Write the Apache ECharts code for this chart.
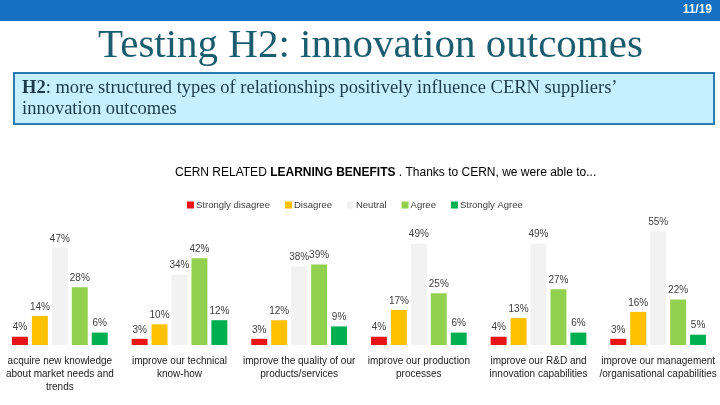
<!DOCTYPE html>
<html>
<head>
<meta charset="utf-8">
<script src="https://cdn.jsdelivr.net/npm/echarts@6/dist/echarts.min.js"></script>
<style>
html,body{margin:0;padding:0;background:#fff;}
#main{width:720px;height:405px;}
</style>
</head>
<body>
<div id="main"></div>
<script>
// categories and survey shares (%)
var categories = [
    'acquire new knowledge\nabout market needs and\ntrends',
    'improve our technical\nknow-how',
    'improve the quality of our\nproducts/services',
    'improve our production\nprocesses',
    'improve our R&D and\ninnovation capabilities',
    'improve our management\n/organisational capabilities'
];
var seriesNames = ['Strongly disagree', 'Disagree', 'Neutral', 'Agree', 'Strongly Agree'];
var stronglyDisagree = [4, 3, 3, 4, 4, 3];
var disagree = [14, 10, 12, 17, 13, 16];
var neutral = [47, 34, 38, 49, 49, 55];
var agree = [28, 42, 39, 25, 27, 22];
var stronglyAgree = [6, 12, 9, 6, 6, 5];

var colors = ['#e81416', '#ffc000', '#f2f2f2', '#92d050', '#00b050'];
var values = [stronglyDisagree, disagree, neutral, agree, stronglyAgree];

var chart = echarts.init(document.getElementById('main'));

var series = [];
for (var i = 0; i < seriesNames.length; i++) {
    series.push({
        name: seriesNames[i],
        type: 'bar',
        barGap: '25%',
        barCategoryGap: '20%',
        itemStyle: {color: colors[i]},
        label: {
            show: true,
            position: 'top',
            distance: 4,
            formatter: '{c}%',
            fontFamily: 'Liberation Sans',
            fontSize: 10,
            color: '#404040'
        },
        data: values[i]
    });
}

var option = {
    animation: false,
    backgroundColor: '#fff',
    color: colors,
    title: {
        text: 'CERN RELATED {b|LEARNING BENEFITS} . Thanks to CERN, we were able to...',
        left: 170,
        top: 162,
        textStyle: {
            fontFamily: 'Liberation Sans',
            fontSize: 12,
            fontWeight: 'normal',
            color: '#000',
            rich: {
                b: {fontFamily: 'Liberation Sans', fontSize: 12, fontWeight: 'bold', color: '#000'}
            }
        }
    },
    legend: {
        left: 182,
        top: 195,
        icon: 'rect',
        itemWidth: 7,
        itemHeight: 7,
        itemGap: 15,
        textStyle: {fontFamily: 'Liberation Sans', fontSize: 9.5, color: '#404040', padding: [0, 0, 0, -3]},
        data: seriesNames
    },
    grid: {left: 0, right: 2, top: 221, bottom: 60},
    xAxis: {
        type: 'category',
        data: categories,
        axisLine: {show: false},
        axisTick: {show: false},
        axisLabel: {
            interval: 0,
            margin: 10,
            fontFamily: 'Liberation Sans',
            fontSize: 10,
            lineHeight: 13,
            color: '#1a1a1a'
        }
    },
    yAxis: {
        type: 'value',
        min: 0,
        max: 60,
        show: false,
        splitLine: {show: false}
    },
    graphic: [
        {type: 'rect', shape: {x: 0, y: 0, width: 720, height: 21}, style: {fill: '#1570c4'}},
        {type: 'text', right: 8, top: 4, style: {text: '11/19', fill: '#fff', font: 'bold 12px "Liberation Sans"'}},
        {type: 'text', left: 98, top: 26, style: {text: 'Testing H2: innovation outcomes', fill: '#1b5c6e', font: '41px "Liberation Serif"'}},
        {type: 'rect', shape: {x: 14, y: 73, width: 700, height: 51}, style: {fill: '#c6efff', stroke: '#2b7cb3', lineWidth: 2}},
        {type: 'text', left: 22, top: 78, style: {
            text: '{b|H2}: more structured types of relationships positively influence CERN suppliers\u2019\ninnovation outcomes',
            fill: '#1a3c4a', font: '18.5px "Liberation Serif"', lineHeight: 21,
            rich: {b: {font: 'bold 18.5px "Liberation Serif"', fill: '#1a3c4a', lineHeight: 21}}
        }}
    ],
    series: series
};

chart.setOption(option);
</script>
</body>
</html>
